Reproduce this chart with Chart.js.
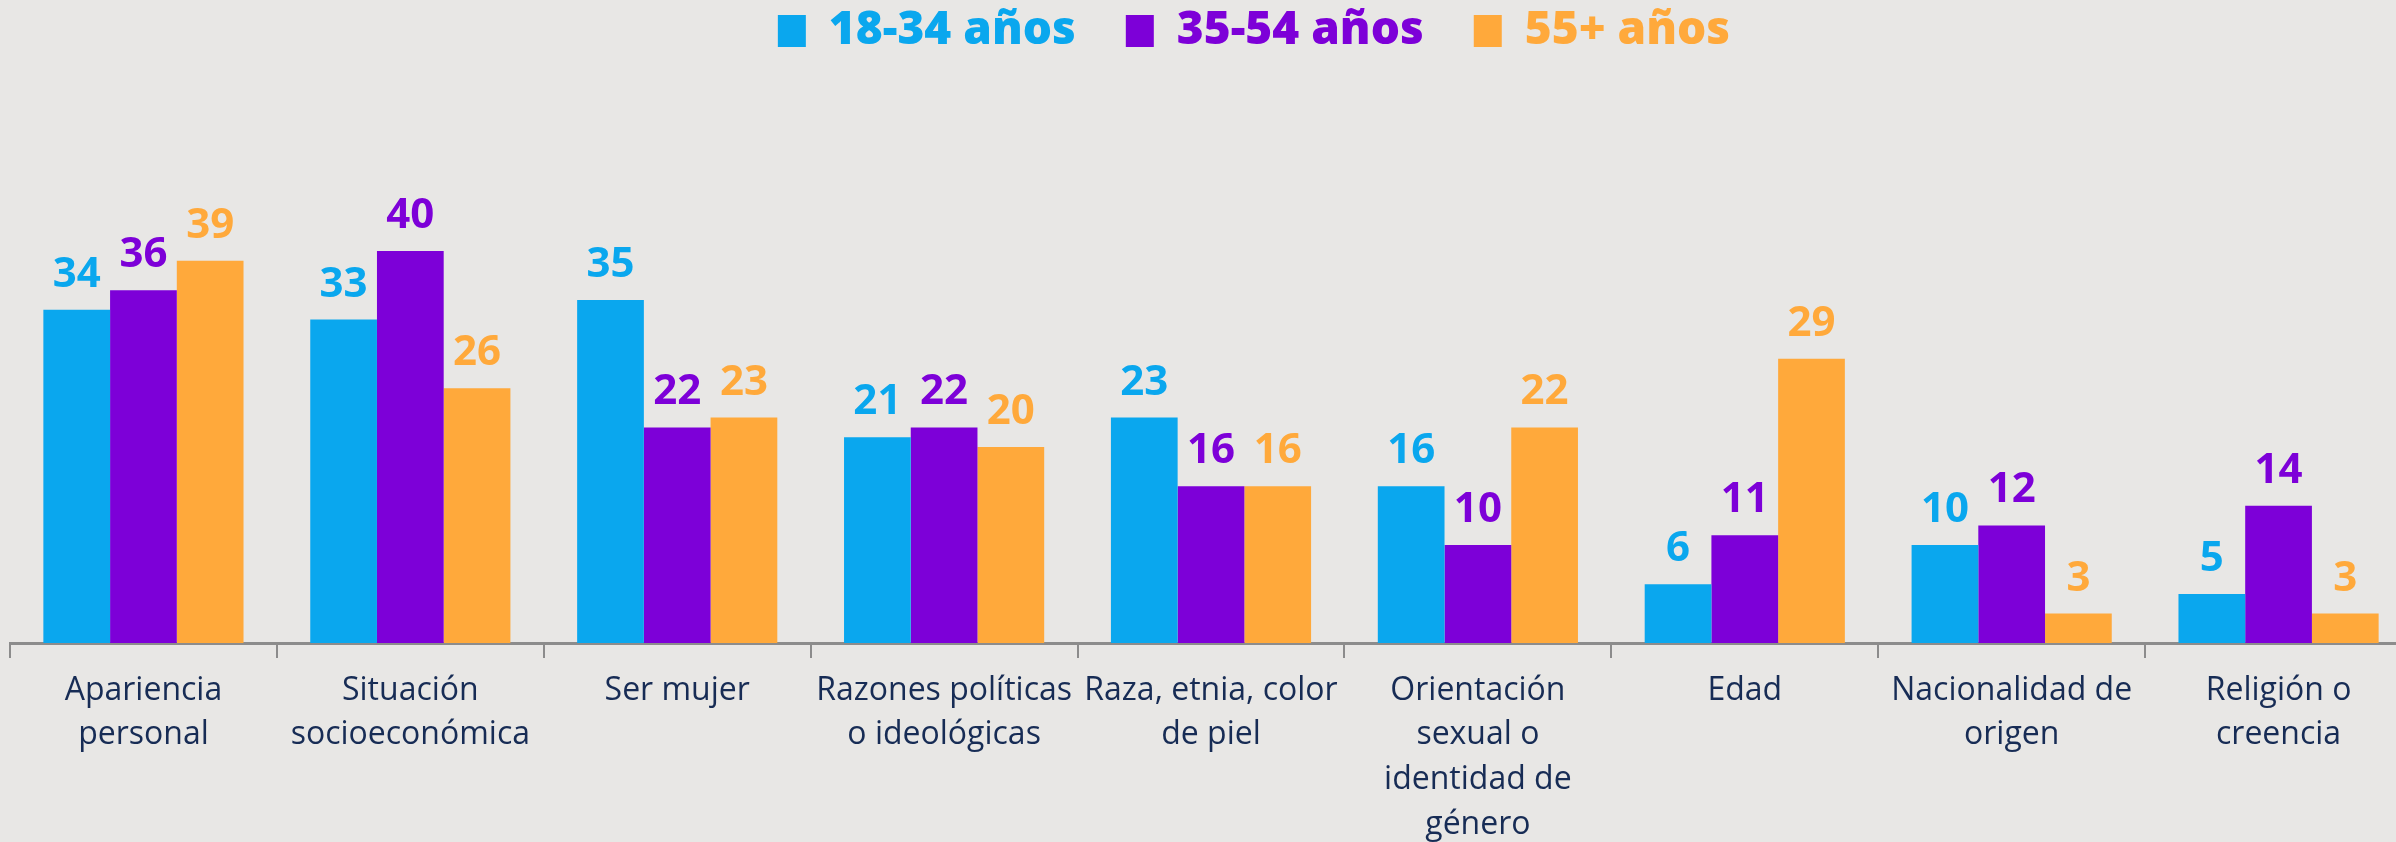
<!DOCTYPE html>
<html lang="es">
<head>
  <meta charset="UTF-8" />
  <title>Discriminación por edad</title>
  <script src="https://cdn.jsdelivr.net/npm/chart.js"></script>
  <style>
    html, body { margin: 0; padding: 0; background: #e8e7e5; overflow: hidden; }
    #wrap { width: 2412px; height: 842px; }
  </style>
</head>
<body>
  <div id="wrap"><canvas id="edadChart"></canvas></div>

  <script>
    const categorias = [
      ['Apariencia', 'personal'],
      ['Situación', 'socioeconómica'],
      ['Ser mujer'],
      ['Razones políticas', 'o ideológicas'],
      ['Raza, etnia, color', 'de piel'],
      ['Orientación', 'sexual o', 'identidad de', 'género'],
      ['Edad'],
      ['Nacionalidad de', 'origen'],
      ['Religión o', 'creencia']
    ];
    const series = ['18-34 años', '35-54 años', '55+ años'];
    const jovenes = [34, 33, 35, 21, 23, 16, 6, 10, 5];
    const medianos = [36, 40, 22, 22, 16, 10, 11, 12, 14];
    const mayores = [39, 26, 23, 20, 16, 22, 29, 3, 3];
    const colores = ['#0aa7ee', '#7d00d8', '#ffa93b'];

    // value labels above each bar
    const etiquetas = {
      id: 'etiquetas',
      afterDatasetsDraw(chart) {
        const ctx = chart.ctx;
        ctx.save();
        ctx.font = '700 42px "Open Sans"';
        ctx.textAlign = 'center';
        ctx.textBaseline = 'alphabetic';
        chart.data.datasets.forEach((ds, i) => {
          ctx.fillStyle = ds.backgroundColor;
          chart.getDatasetMeta(i).data.forEach((bar, j) => {
            ctx.fillText(ds.data[j], bar.x, bar.y - 23);
          });
        });
        ctx.restore();
      }
    };

    // fixed legend height + nudge its position
    const leyenda = {
      id: 'leyenda',
      beforeInit(chart) {
        const fit = chart.legend.fit;
        chart.legend.fit = function () {
          fit.bind(this)();
          this.height = 153;
        };
      },
      afterLayout(chart) {
        chart.legend.left += 43;
        chart.legend.right += 43;
        chart.legend.top -= 42;
      }
    };

    new Chart(document.getElementById('edadChart'), {
      type: 'bar',
      data: {
        labels: categorias,
        datasets: [
          { label: series[0], data: jovenes, backgroundColor: colores[0] },
          { label: series[1], data: medianos, backgroundColor: colores[1] },
          { label: series[2], data: mayores, backgroundColor: colores[2] }
        ]
      },
      options: {
        responsive: true,
        maintainAspectRatio: false,
        animation: false,
        layout: { padding: { left: 10, right: 0, top: 0, bottom: 0 } },
        datasets: { bar: { categoryPercentage: 0.75, barPercentage: 1 } },
        plugins: {
          tooltip: { enabled: false },
          legend: {
            position: 'top',
            labels: {
              boxWidth: 28,
              boxHeight: 32,
              padding: 50,
              font: { family: 'Open Sans', size: 46, weight: '800' },
              generateLabels(chart) {
                return chart.data.datasets.map((ds, i) => ({
                  text: ds.label,
                  fillStyle: ds.backgroundColor,
                  strokeStyle: ds.backgroundColor,
                  lineWidth: 0,
                  fontColor: ds.backgroundColor,
                  datasetIndex: i
                }));
              }
            }
          }
        },
        scales: {
          x: {
            afterFit(scale) { scale.height = 199; },
            grid: {
              display: true,
              drawOnChartArea: false,
              drawTicks: true,
              tickLength: 15,
              color: '#8c8c8c',
              lineWidth: 2
            },
            border: { display: true, color: '#8c8c8c', width: 3 },
            ticks: {
              autoSkip: false,
              maxRotation: 0,
              padding: 10,
              color: '#172c55',
              font: { family: 'Open Sans', size: 32, lineHeight: 1.4 }
            }
          },
          y: {
            display: false,
            min: 0,
            max: 50
          }
        }
      },
      plugins: [etiquetas, leyenda]
    });
  </script>
</body>
</html>
